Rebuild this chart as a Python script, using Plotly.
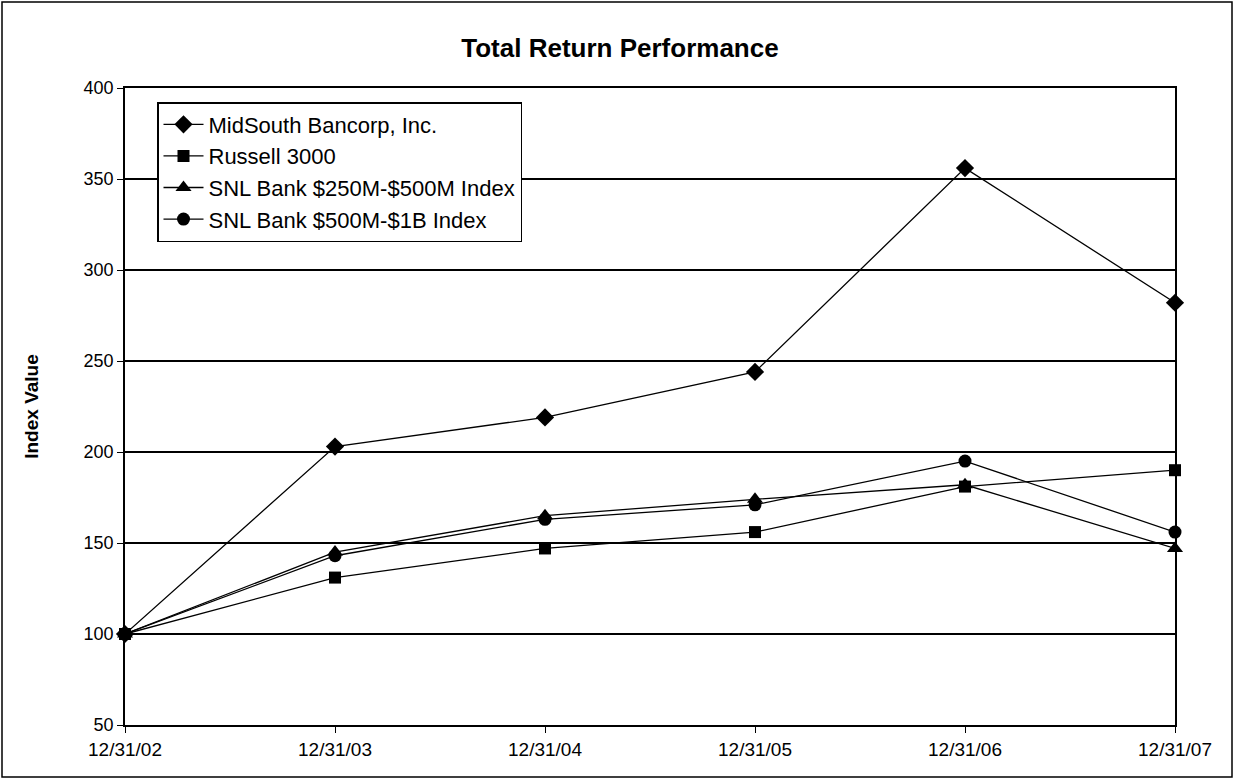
import plotly.graph_objects as go

# ---- data ----
dates = ["12/31/02", "12/31/03", "12/31/04", "12/31/05", "12/31/06", "12/31/07"]
midsouth = [100, 203, 219, 244, 356, 282]
russell = [100, 131, 147, 156, 181, 190]
snl_250_500 = [100, 145, 165, 174, 182, 147]
snl_500_1b = [100, 143, 163, 171, 195, 156]
series_names = ["MidSouth Bancorp, Inc.", "Russell 3000",
                "SNL Bank $250M-$500M Index", "SNL Bank $500M-$1B Index"]
y_ticks = [50, 100, 150, 200, 250, 300, 350, 400]

W, H = 1235, 780
L, R, T, B = 125, 60, 88, 55
FONT = "Liberation Sans, Arial, sans-serif"

xpos = list(range(len(dates)))
fig = go.Figure()
symbols = ["diamond", "square", "triangle-up", "circle"]
sizes = [14, 12, 14, 13]
for i, (name, vals) in enumerate(zip(series_names,
                                    [midsouth, russell, snl_250_500, snl_500_1b])):
    fig.add_trace(go.Scatter(
        x=xpos, y=vals, name=name, mode="lines+markers",
        line=dict(color="black", width=1.3),
        marker=dict(symbol=symbols[i], size=sizes[i], color="black"),
        legendgroup=f"g{i}", cliponaxis=False,
    ))

pw = W - L - R
ph = H - T - B
def px_x(p):
    return (p - L) / pw
def px_y(p):
    return (H - B - p) / ph

fig.update_layout(
    width=W, height=H,
    margin=dict(l=L, r=R, t=T, b=B),
    paper_bgcolor="white", plot_bgcolor="white",
    font=dict(family=FONT, color="black", size=18),
    title=dict(text="<b>Total Return Performance</b>", x=0.502, xanchor="center",
               y=1 - 48 / H, yanchor="middle",
               font=dict(family=FONT, size=26, color="black")),
    showlegend=True,
    legend=dict(x=px_x(157), y=px_y(102), xanchor="left", yanchor="top",
                bgcolor="white", bordercolor="black", borderwidth=1.5,
                font=dict(family=FONT, size=22, color="black"),
                tracegroupgap=0, itemwidth=40),
    xaxis=dict(range=[0, len(dates) - 1], tickmode="array", tickvals=xpos,
               ticktext=dates, showgrid=False, zeroline=False,
               showline=True, linecolor="black", linewidth=1.5, mirror=True,
               ticks="outside", ticklen=6, tickcolor="black",
               tickfont=dict(family=FONT, size=19, color="black")),
    yaxis=dict(range=[50, 400], tickmode="array", tickvals=y_ticks,
               showgrid=True, gridcolor="black", gridwidth=1.5, zeroline=False,
               showline=True, linecolor="black", linewidth=1.5, mirror=True,
               ticks="outside", ticklen=6, tickcolor="black",
               tickfont=dict(family=FONT, size=18, color="black"),
               title=dict(text="<b>Index Value</b>", standoff=40,
                          font=dict(family=FONT, size=19, color="black"))),
    shapes=[dict(type="rect", xref="paper", yref="paper",
                 x0=px_x(2), x1=px_x(1232), y0=px_y(777), y1=px_y(2),
                 line=dict(color="black", width=1.5), fillcolor="rgba(0,0,0,0)",
                 layer="below")],
)

fig.write_html("out.html", config={"displayModeBar": False},
               post_script="document.body.style.margin='0';")
